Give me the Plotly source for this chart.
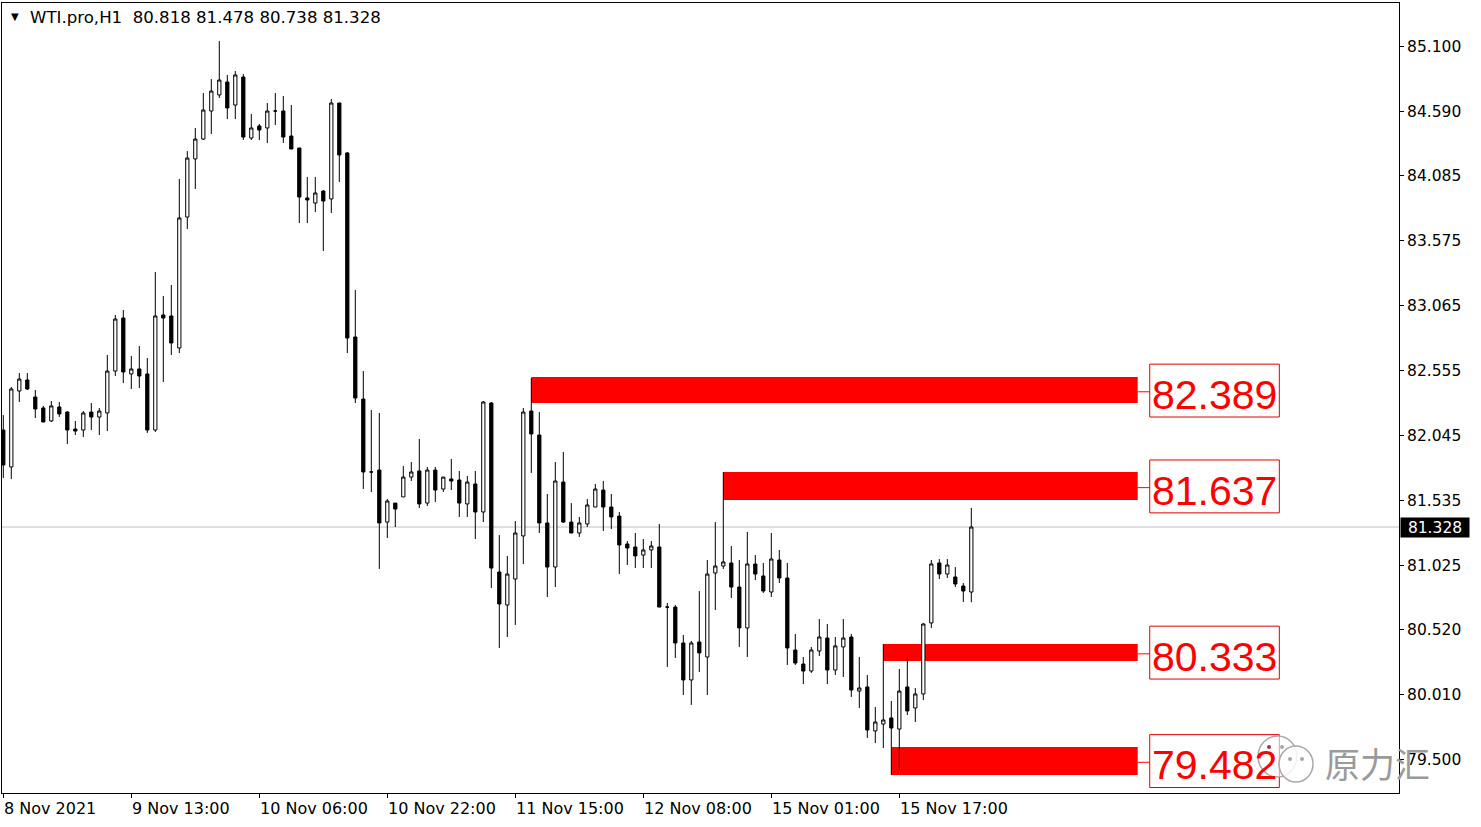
import plotly.graph_objects as go

# ---------------- data (WTI.pro H1) ----------------
opens = [82.089, 81.799, 82.395, 82.482, 82.348, 82.262, 82.160, 82.270, 82.230, 82.097,
         82.089, 82.230, 82.191, 82.223, 82.552, 82.968, 82.529, 82.568, 82.529, 82.089,
         82.992, 82.984, 82.733, 83.760, 84.216, 84.372, 84.592, 84.718, 84.820, 84.639,
         84.859, 84.380, 84.475, 84.459, 84.592, 84.592, 84.396, 84.302, 83.910, 83.870,
         83.964, 83.902, 84.655, 84.263, 82.819, 82.332, 81.760, 81.775, 81.367, 81.516,
         81.564, 81.720, 81.768, 81.516, 81.775, 81.626, 81.705, 81.697, 81.509, 81.666,
         81.446, 82.301, 80.975, 80.716, 80.920, 81.258, 82.238, 82.050, 81.360, 81.014,
         81.681, 81.367, 81.281, 81.352, 81.485, 81.618, 81.485, 81.414, 81.195, 81.171,
         81.108, 81.148, 81.171, 80.700, 80.700, 80.418, 80.128, 80.426, 80.308, 80.967,
         81.022, 81.046, 80.857, 80.536, 81.038, 80.944, 80.818, 81.069, 80.928, 80.363,
         80.253, 80.198, 80.355, 80.457, 80.206, 80.387, 80.465, 80.041, 80.073, 79.728,
         79.782, 79.830, 79.743, 80.073, 79.908, 80.018, 80.575, 81.046, 80.959, 80.936,
         80.865, 80.818]
highs = [82.207, 82.427, 82.536, 82.536, 82.403, 82.278, 82.317, 82.309, 82.238, 82.160,
         82.238, 82.301, 82.262, 82.678, 82.992, 83.031, 82.670, 82.748, 82.654, 83.329,
         83.141, 83.227, 84.059, 84.278, 84.459, 84.733, 84.843, 85.141, 84.875, 84.906,
         84.882, 84.569, 84.490, 84.655, 84.733, 84.710, 84.639, 84.302, 84.074, 84.074,
         83.972, 84.686, 84.655, 84.270, 83.188, 82.552, 82.246, 82.223, 81.548, 81.516,
         81.807, 81.838, 82.019, 81.799, 81.799, 81.720, 81.862, 81.768, 81.728, 81.768,
         82.317, 82.309, 81.265, 81.101, 81.375, 82.262, 82.497, 82.230, 81.587, 81.838,
         81.917, 81.516, 81.407, 81.548, 81.666, 81.689, 81.587, 81.446, 81.218, 81.281,
         81.234, 81.218, 81.352, 80.732, 80.716, 80.481, 80.434, 80.826, 81.069, 81.367,
         81.760, 81.179, 81.069, 81.289, 81.108, 81.046, 81.281, 81.148, 81.046, 80.489,
         80.308, 80.387, 80.606, 80.567, 80.465, 80.606, 80.489, 80.308, 80.167, 79.916,
         80.410, 79.963, 80.214, 80.308, 80.065, 80.575, 81.069, 81.077, 81.077, 81.014,
         80.889, 81.478]
lows = [81.713, 81.705, 82.309, 82.403, 82.183, 82.152, 82.152, 82.191, 81.979, 82.050,
        82.034, 82.089, 82.050, 82.081, 82.513, 82.458, 82.411, 82.419, 82.066, 82.074,
        82.466, 82.678, 82.693, 83.666, 83.980, 84.365, 84.412, 84.694, 84.529, 84.529,
        84.365, 84.365, 84.365, 84.341, 84.482, 84.341, 84.294, 83.713, 83.713, 83.800,
        83.494, 83.792, 84.035, 82.693, 82.301, 81.626, 81.603, 80.999, 81.242, 81.328,
        81.564, 81.689, 81.477, 81.493, 81.524, 81.603, 81.618, 81.407, 81.407, 81.234,
        81.367, 80.850, 80.379, 80.465, 80.559, 81.038, 81.752, 81.281, 80.779, 80.857,
        81.360, 81.281, 81.250, 81.328, 81.485, 81.297, 81.312, 80.959, 81.030, 81.006,
        81.006, 81.006, 80.700, 80.230, 80.300, 80.010, 79.932, 80.190, 80.010, 80.677,
        80.999, 80.771, 80.387, 80.308, 80.912, 80.810, 80.779, 80.889, 80.245, 80.245,
        80.096, 80.183, 80.316, 80.096, 80.167, 80.151, 79.994, 79.908, 79.673, 79.633,
        79.594, 79.382, 79.422, 79.853, 79.798, 79.971, 80.536, 80.920, 80.928, 80.857,
        80.740, 80.738]
closes = [81.815, 82.411, 82.489, 82.411, 82.254, 82.152, 82.278, 82.215, 82.089, 82.081,
          82.223, 82.191, 82.238, 82.552, 82.960, 82.544, 82.568, 82.513, 82.089, 82.984,
          82.968, 82.772, 83.753, 84.223, 84.372, 84.600, 84.749, 84.835, 84.616, 84.875,
          84.388, 84.459, 84.443, 84.592, 84.592, 84.388, 84.294, 83.917, 83.894, 83.949,
          83.886, 84.655, 84.247, 82.811, 82.340, 81.760, 81.760, 81.360, 81.532, 81.469,
          81.720, 81.760, 81.509, 81.775, 81.618, 81.720, 81.689, 81.516, 81.681, 81.446,
          82.309, 81.006, 80.724, 80.959, 81.281, 82.230, 82.058, 81.360, 81.014, 81.689,
          81.367, 81.281, 81.360, 81.501, 81.626, 81.485, 81.407, 81.187, 81.163, 81.101,
          81.148, 81.179, 80.700, 80.700, 80.418, 80.128, 80.418, 80.340, 80.959, 81.022,
          81.054, 80.857, 80.536, 81.038, 80.959, 80.826, 81.077, 80.928, 80.379, 80.261,
          80.198, 80.363, 80.465, 80.206, 80.395, 80.457, 80.049, 80.065, 79.735, 79.798,
          79.814, 79.751, 80.041, 79.885, 80.018, 80.567, 81.038, 80.959, 81.030, 80.881,
          80.826, 81.328]
bars = list(range(len(opens)))

symbol = "WTI.pro,H1"
time_tick_bars = [0, 16, 32, 48, 64, 80, 96, 112]
time_tick_labels = ["8 Nov 2021", "9 Nov 13:00", "10 Nov 06:00", "10 Nov 22:00",
                    "11 Nov 15:00", "12 Nov 08:00", "15 Nov 01:00", "15 Nov 17:00"]
price_ticks = [85.100, 84.590, 84.085, 83.575, 83.065, 82.555, 82.045,
               81.535, 81.025, 80.520, 80.010, 79.500]

zone_levels = [82.389, 81.637, 80.333, 79.482]
zone_tops = [82.505, 81.760, 80.410, 79.602]
zone_bottoms = [82.301, 81.540, 80.277, 79.382]
zone_start_bars = [66, 90, 110, 111]
zone_end_bar = 141.8

# ---------------- figure ----------------
W, H = 1481, 827
ML, MR, MT, MB = 2, 82, 3, 34
X_RANGE = [-0.1625, 174.46]
Y_RANGE = [79.241, 85.4396]

fig = go.Figure()
fig.add_trace(go.Candlestick(
    x=bars, open=opens, high=highs, low=lows, close=closes,
    increasing=dict(line=dict(color="black", width=1), fillcolor="white"),
    decreasing=dict(line=dict(color="black", width=1), fillcolor="black"),
    whiskerwidth=0, hoverinfo="none", showlegend=False,
))

shapes = []
last_close = closes[-1]
# current price line
shapes.append(dict(type="line", xref="paper", x0=0, x1=1, yref="y", y0=last_close, y1=last_close,
                   line=dict(color="#C0C0C0", width=1), layer="below"))

label_x0 = zone_end_bar + 1.5
label_x1 = label_x0 + 16.2
for lvl, top, bot, sb in zip(zone_levels, zone_tops, zone_bottoms, zone_start_bars):
    shapes.append(dict(type="rect", xref="x", yref="y", x0=sb, x1=zone_end_bar, y0=bot, y1=top,
                       fillcolor="#FF0000", line=dict(width=0), layer="below"))
    shapes.append(dict(type="line", xref="x", yref="y", x0=zone_end_bar, x1=label_x0, y0=lvl, y1=lvl,
                       line=dict(color="#FF0000", width=1), layer="above"))
    shapes.append(dict(type="rect", xref="x", yref="y", x0=label_x0, x1=label_x1,
                       y0=lvl - 0.198, y1=lvl + 0.217,
                       fillcolor="rgba(0,0,0,0)", line=dict(color="#E00000", width=1), layer="above"))

annotations = []
for lvl in zone_levels:
    annotations.append(dict(xref="x", yref="y", x=(label_x0 + label_x1) / 2, y=lvl,
                            text=f"{lvl:.3f}", showarrow=False, xanchor="center", yanchor="middle",
                            yshift=-3,
                            font=dict(family="Liberation Sans", size=41, color="#FF0000")))

# bottom time labels (left-aligned at tick like MT4)
for b, lab in zip(time_tick_bars, time_tick_labels):
    annotations.append(dict(xref="x", yref="paper", x=b, y=0, text=lab, showarrow=False,
                            xanchor="left", yanchor="top", xshift=-1, yshift=-4,
                            font=dict(family="DejaVu Sans", size=16, color="black")))

# header
annotations.append(dict(xref="paper", yref="paper", x=0, y=1, text="▼", showarrow=False,
                        xanchor="left", yanchor="top", xshift=7, yshift=-6,
                        font=dict(family="DejaVu Sans", size=10, color="black")))
header = f"{symbol}\u00a0\u00a0{opens[-1]:.3f} {highs[-1]:.3f} {lows[-1]:.3f} {closes[-1]:.3f}"
annotations.append(dict(xref="paper", yref="paper", x=0, y=1, text=header, showarrow=False,
                        xanchor="left", yanchor="top", xshift=26, yshift=-3,
                        font=dict(family="DejaVu Sans", size=16.6, color="black")))

# current price tag on the axis
annotations.append(dict(xref="paper", yref="y", x=1, y=last_close, text=f"{last_close:.3f}",
                        showarrow=False, xanchor="left", yanchor="middle", xshift=1,
                        bgcolor="black", width=68, height=19, borderpad=0,
                        font=dict(family="DejaVu Sans", size=15.5, color="white")))

# watermark
PW = W - ML - MR
PH = H - MT - MB
def px(xp):
    return (xp - ML) / PW
def py(yp):
    return (H - MB - yp) / PH

shapes.append(dict(type="circle", xref="paper", yref="paper", x0=px(1258), x1=px(1297),
                   y0=py(777), y1=py(736), line=dict(color="#A8A8A8", width=1.5),
                   fillcolor="rgba(255,255,255,0.6)", layer="above"))
shapes.append(dict(type="circle", xref="paper", yref="paper", x0=px(1279), x1=px(1313),
                   y0=py(782), y1=py(746), line=dict(color="#A8A8A8", width=1.5),
                   fillcolor="rgba(255,255,255,0.85)", layer="above"))
for cx, cy, col in [(1269, 747, "#B03040"), (1282, 747, "#A8A8A8"), (1290, 759, "#A8A8A8"), (1302, 759, "#A8A8A8")]:
    shapes.append(dict(type="circle", xref="paper", yref="paper", x0=px(cx - 2), x1=px(cx + 2),
                       y0=py(cy + 2), y1=py(cy - 2), line=dict(width=0), fillcolor=col, layer="above"))
annotations.append(dict(xref="paper", yref="paper", x=px(1377), y=py(762), text="原力汇",
                        showarrow=False, xanchor="center", yanchor="middle",
                        font=dict(family="Noto Sans CJK SC", size=35, color="#9A9A9A")))

fig.update_layout(
    width=W, height=H, autosize=False,
    margin=dict(l=ML, r=MR, t=MT, b=MB, pad=0),
    paper_bgcolor="white", plot_bgcolor="white",
    shapes=shapes, annotations=annotations,
    boxgap=0.42,
    showlegend=False,
    xaxis=dict(range=X_RANGE, tickvals=time_tick_bars, showticklabels=False,
               ticks="outside", ticklen=4, tickcolor="black",
               showgrid=False, zeroline=False, showline=True, linecolor="black", linewidth=1,
               mirror=True, rangeslider=dict(visible=False), fixedrange=True),
    yaxis=dict(range=Y_RANGE, side="right", tickvals=price_ticks,
               ticktext=[f"{v:.3f}" for v in price_ticks],
               ticks="outside", ticklen=4, tickcolor="black",
               tickfont=dict(family="DejaVu Sans", size=15.5, color="black"),
               showgrid=False, zeroline=False, showline=True, linecolor="black", linewidth=1,
               mirror=True, fixedrange=True),
)

fig.write_html(
    "out.html",
    config={"displayModeBar": False},
    post_script="document.body.style.margin='0';document.body.style.overflow='hidden';",
)
